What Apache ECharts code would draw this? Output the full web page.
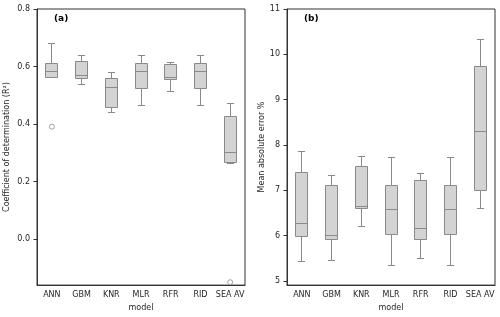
<!DOCTYPE html>
<html>
<head>
<meta charset="utf-8">
<script src="https://cdn.jsdelivr.net/npm/echarts@6/dist/echarts.min.js"></script>
<style>html,body{margin:0;padding:0;background:#fff;}#c{width:500px;height:317px;}</style>
</head>
<body>
<div id="c"></div>
<script>
var categories = ['ANN', 'GBM', 'KNR', 'MLR', 'RFR', 'RID', 'SEA AV'];

// [lower whisker, Q1, median, Q3, upper whisker]
var r2Boxes = [
  [0.562, 0.562, 0.581, 0.612, 0.681],
  [0.537, 0.560, 0.568, 0.619, 0.639],
  [0.441, 0.457, 0.526, 0.558, 0.579],
  [0.463, 0.526, 0.581, 0.612, 0.639],
  [0.514, 0.554, 0.562, 0.606, 0.614],
  [0.463, 0.526, 0.581, 0.612, 0.639],
  [0.264, 0.264, 0.301, 0.425, 0.470]
];
var r2Outliers = [['ANN', 0.391], ['SEA AV', -0.150]];

var maeBoxes = [
  [5.43, 5.98, 6.26, 7.40, 7.85],
  [5.45, 5.91, 6.00, 7.11, 7.32],
  [6.20, 6.60, 6.63, 7.53, 7.74],
  [5.34, 6.03, 6.57, 7.11, 7.73],
  [5.49, 5.91, 6.15, 7.21, 7.37],
  [5.34, 6.03, 6.57, 7.11, 7.73],
  [6.60, 7.01, 8.30, 9.74, 10.33]
];
var maeOutliers = [];

var r2Ticks = [0.0, 0.2, 0.4, 0.6, 0.8];
var maeTicks = [5, 6, 7, 8, 9, 10, 11];

var LINE = '#8a8a8a';
var FILL = '#d3d3d3';
var TXT = '#262626';
var FONT = 'DejaVu Sans';

function px(v) { return Math.round(v - 0.5) + 0.5; }

function renderBox(params, api) {
  var x = api.value(0);
  var lo = api.coord([x, api.value(1)]);
  var q1 = api.coord([x, api.value(2)]);
  var md = api.coord([x, api.value(3)]);
  var q3 = api.coord([x, api.value(4)]);
  var hi = api.coord([x, api.value(5)]);
  var bw = api.size([1, 0])[0] * 0.4;
  var cw = bw * 0.3;
  var cx = px(lo[0]);
  var st = { stroke: LINE, lineWidth: 1, fill: null };
  var l = cx - bw / 2;
  return {
    type: 'group',
    children: [
      { type: 'line', shape: { x1: cx, y1: px(hi[1]), x2: cx, y2: q3[1] }, style: st },
      { type: 'line', shape: { x1: cx, y1: q1[1], x2: cx, y2: px(lo[1]) }, style: st },
      { type: 'line', shape: { x1: cx - cw, y1: px(hi[1]), x2: cx + cw, y2: px(hi[1]) }, style: st },
      { type: 'line', shape: { x1: cx - cw, y1: px(lo[1]), x2: cx + cw, y2: px(lo[1]) }, style: st },
      { type: 'rect', shape: { x: px(l), y: px(q3[1]), width: Math.round(bw), height: Math.round(q1[1] - q3[1]) },
        style: { fill: FILL, stroke: LINE, lineWidth: 1 } },
      { type: 'line', shape: { x1: px(l), y1: px(md[1]), x2: px(l) + Math.round(bw), y2: px(md[1]) }, style: st }
    ]
  };
}

function boxData(arr) {
  return arr.map(function (b, i) { return [i].concat(b); });
}

function xAxisFor(gi) {
  return {
    type: 'category', gridIndex: gi, data: categories,
    name: 'model', nameLocation: 'middle', nameGap: 17,
    nameTextStyle: { fontSize: 8, color: TXT, fontFamily: FONT },
    axisLine: { onZero: false, lineStyle: { color: '#333', width: 1 } },
    axisTick: { alignWithLabel: true, length: 3.5, lineStyle: { color: '#333' } },
    axisLabel: { fontSize: 8, color: TXT, fontFamily: FONT, margin: 6, interval: 0 },
    splitLine: { show: false }
  };
}

function yAxisFor(gi, min, max, ticks, name, gap) {
  return {
    type: 'value', gridIndex: gi, min: min, max: max,
    name: name, nameLocation: 'middle', nameGap: gap,
    nameTextStyle: { fontSize: 8, color: TXT, fontFamily: FONT },
    axisLine: { show: true, onZero: false, lineStyle: { color: '#333', width: 1 } },
    axisTick: { show: true, length: 3.5, customValues: ticks, lineStyle: { color: '#333' } },
    axisLabel: { fontSize: 8, color: TXT, fontFamily: FONT, margin: 7, customValues: ticks,
      formatter: function (v) { return min < 1 ? v.toFixed(1) : String(v); } },
    splitLine: { show: false }
  };
}

var chart = echarts.init(document.getElementById('c'), null, { renderer: 'canvas' });
chart.setOption({
  animation: false,
  backgroundColor: '#fff',
  grid: [
    { left: 37, top: 9, width: 208, height: 278, show: true, borderColor: '#333', borderWidth: 1, backgroundColor: 'transparent' },
    { left: 287, top: 9, width: 208, height: 278, show: true, borderColor: '#333', borderWidth: 1, backgroundColor: 'transparent' }
  ],
  xAxis: [xAxisFor(0), xAxisFor(1)],
  yAxis: [
    yAxisFor(0, -0.16, 0.8, r2Ticks, 'Coefficient of determination (R²)', 26),
    yAxisFor(1, 4.905, 11, maeTicks, 'Mean absolute error %', 20)
  ],
  title: [
    { text: '(a)', left: 49, top: 9, textStyle: { fontSize: 9, fontWeight: 'bold', color: '#000', fontFamily: FONT } },
    { text: '(b)', left: 299, top: 9, textStyle: { fontSize: 9, fontWeight: 'bold', color: '#000', fontFamily: FONT } }
  ],
  series: [
    { type: 'custom', xAxisIndex: 0, yAxisIndex: 0, renderItem: renderBox, data: boxData(r2Boxes),
      encode: { x: 0, y: [1, 2, 3, 4, 5] } },
    { type: 'custom', xAxisIndex: 1, yAxisIndex: 1, renderItem: renderBox, data: boxData(maeBoxes),
      encode: { x: 0, y: [1, 2, 3, 4, 5] } },
    { type: 'scatter', xAxisIndex: 0, yAxisIndex: 0, data: r2Outliers, symbol: 'circle', symbolSize: 5,
      itemStyle: { color: '#fff', borderColor: LINE, borderWidth: 1 } },
    { type: 'scatter', xAxisIndex: 1, yAxisIndex: 1, data: maeOutliers, symbol: 'circle', symbolSize: 5,
      itemStyle: { color: '#fff', borderColor: LINE, borderWidth: 1 } }
  ]
});
</script>
</body>
</html>
